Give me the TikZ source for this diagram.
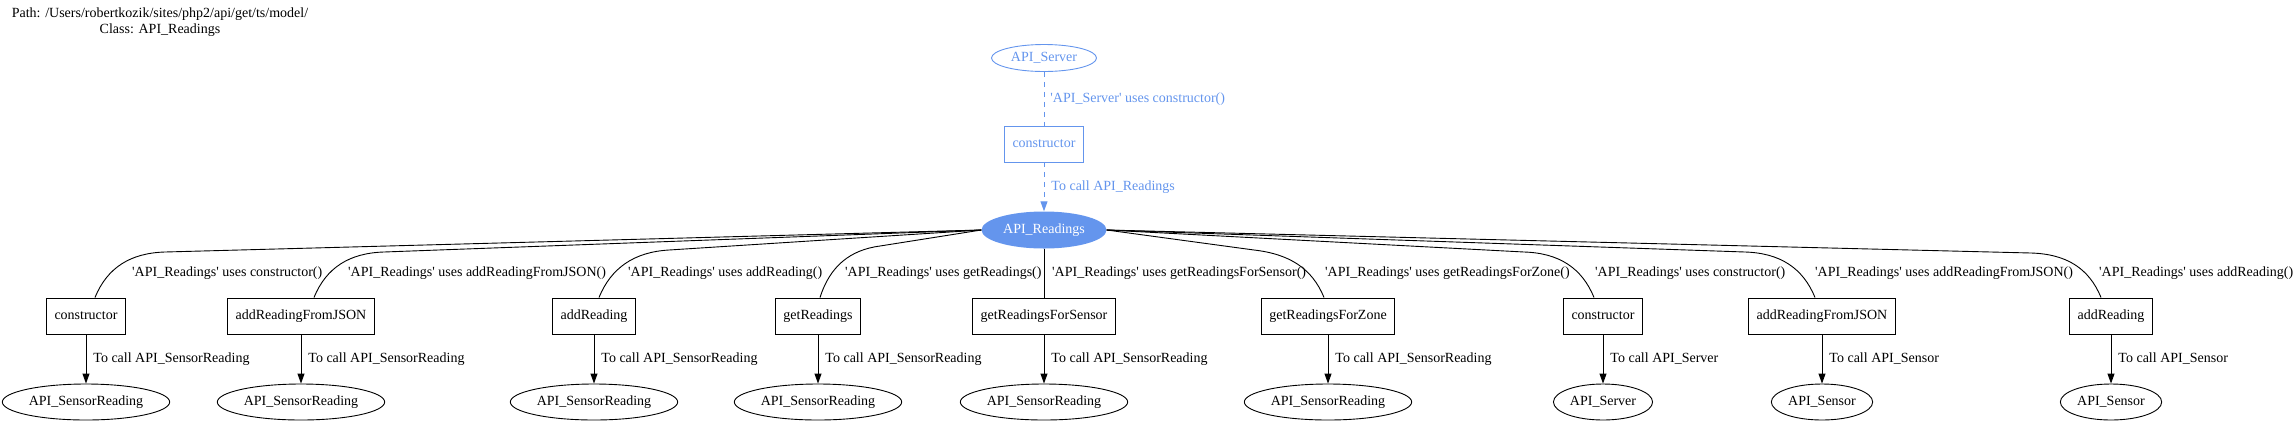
\documentclass[tikz,border=0pt]{standalone}
\usepackage{fontspec}
\setmainfont{Liberation Serif}
\usetikzlibrary{arrows.meta,shapes.geometric,positioning}
\definecolor{callblue}{HTML}{6495ED}
\newcommand{\tq}{\textquotesingle}

\begin{document}
\begin{tikzpicture}[x=1pt, y=-1pt, font=\fontsize{14}{16}\selectfont,
    method/.style={rectangle, draw, line width=0.9pt, minimum height=36pt, inner xsep=8pt},
    callee/.style={ellipse, draw, line width=0.9pt, minimum height=36pt, inner xsep=2pt},
    uses/.style={line width=0.9pt},
    calls/.style={line width=0.9pt, -{Triangle[length=10pt,width=7pt]}},
    lbl/.style={inner sep=0pt}]
    \useasboundingbox (0,0) rectangle (2296,424);

    % Title
    \node[align=center, inner sep=0pt] (title) at (160,22)
        {Path: /Users/robertkozik/sites/php2/api/get/ts/model/\\Class: API\_Readings};

    % Caller
    \node[ellipse, draw=callblue, text=callblue, line width=0.9pt, minimum width=105pt,
        minimum height=27pt, inner sep=0pt] (server) at (1044,58) {API\_Server};
    \node[method, draw=callblue, text=callblue] (ctor) at (1044,144) {constructor};
    \node[ellipse, fill=callblue, text=white, minimum width=125pt, minimum height=37pt,
        inner sep=0pt] (readings) at (1044,230) {API\_Readings};

    \draw[uses, callblue, dash pattern=on 5pt off 5pt] (server) -- (ctor)
        node[lbl, midway, right=6pt, text=callblue] (sl) {\tq API\_Server\tq{} uses constructor()};
    \draw[calls, callblue, dash pattern=on 5pt off 5pt] (ctor) -- (readings)
        node[lbl, midway, right=7pt, text=callblue] (rl) {To call API\_Readings};

    % Methods
    \node[method] (cons1) at (86,316) {constructor};
    \node[method] (jsonA) at (301,316) {addReadingFromJSON};
    \node[method] (addA) at (594,316) {addReading};
    \node[method] (getr) at (818,316) {getReadings};
    \node[method] (gsens) at (1044,316) {getReadingsForSensor};
    \node[method] (zone) at (1328,316) {getReadingsForZone};
    \node[method] (cons2) at (1603,316) {constructor};
    \node[method] (jsonB) at (1822,316) {addReadingFromJSON};
    \node[method] (addB) at (2111,316) {addReading};

    % Uses edges
    \draw[uses] (readings.west) -- (165,252) .. controls (130,253) and (107,268) .. ([xshift=9pt]cons1.north);
    \draw[uses] (readings.west) -- (384,252) .. controls (349,253) and (326,268) .. ([xshift=13pt]jsonA.north);
    \draw[uses] (readings.west) -- (669,250) .. controls (634,252) and (611,268) .. ([xshift=5pt]addA.north);
    \draw[uses] (readings.west) -- (880,246) .. controls (850,250) and (830,266) .. ([xshift=2pt]getr.north);
    \draw[uses] (readings) -- (gsens);
    \draw[uses] (readings.east) -- (1254,250) .. controls (1289,254) and (1312,268) .. ([xshift=-4pt]zone.north);
    \draw[uses] (readings.east) -- (1524,252) .. controls (1559,253) and (1582,268) .. ([xshift=-9pt]cons2.north);
    \draw[uses] (readings.east) -- (1745,252) .. controls (1780,253) and (1803,268) .. ([xshift=-7pt]jsonB.north);
    \draw[uses] (readings.east) -- (2031,253) .. controls (2066,254) and (2089,268) .. ([xshift=-10pt]addB.north);

    \node[lbl, anchor=west] (u1) at (132,273) {\tq API\_Readings\tq{} uses constructor()};
    \node[lbl, anchor=west] (u2) at (348,273) {\tq API\_Readings\tq{} uses addReadingFromJSON()};
    \node[lbl, anchor=west] (u3) at (628,273) {\tq API\_Readings\tq{} uses addReading()};
    \node[lbl, anchor=west] (u4) at (845,273) {\tq API\_Readings\tq{} uses getReadings()};
    \node[lbl, anchor=west] (u5) at (1052,273) {\tq API\_Readings\tq{} uses getReadingsForSensor()};
    \node[lbl, anchor=west] (u6) at (1325,273) {\tq API\_Readings\tq{} uses getReadingsForZone()};
    \node[lbl, anchor=west] (u7) at (1595,273) {\tq API\_Readings\tq{} uses constructor()};
    \node[lbl, anchor=west] (u8) at (1815,273) {\tq API\_Readings\tq{} uses addReadingFromJSON()};
    \node[lbl, anchor=west] (u9) at (2099,273) {\tq API\_Readings\tq{} uses addReading()};

    % Callees
    \node[callee] (sr1) at (86,402) {API\_SensorReading};
    \node[callee] (sr2) at (301,402) {API\_SensorReading};
    \node[callee] (sr3) at (594,402) {API\_SensorReading};
    \node[callee] (sr4) at (818,402) {API\_SensorReading};
    \node[callee] (sr5) at (1044,402) {API\_SensorReading};
    \node[callee] (sr6) at (1328,402) {API\_SensorReading};
    \node[callee] (srv) at (1603,402) {API\_Server};
    \node[callee] (sen1) at (1822,402) {API\_Sensor};
    \node[callee] (sen2) at (2111,402) {API\_Sensor};

    \draw[calls] (cons1) -- (sr1) node[lbl, midway, right=7pt] (c1) {To call API\_SensorReading};
    \draw[calls] (jsonA) -- (sr2) node[lbl, midway, right=7pt] (c2) {To call API\_SensorReading};
    \draw[calls] (addA) -- (sr3) node[lbl, midway, right=7pt] (c3) {To call API\_SensorReading};
    \draw[calls] (getr) -- (sr4) node[lbl, midway, right=7pt] (c4) {To call API\_SensorReading};
    \draw[calls] (gsens) -- (sr5) node[lbl, midway, right=7pt] (c5) {To call API\_SensorReading};
    \draw[calls] (zone) -- (sr6) node[lbl, midway, right=7pt] (c6) {To call API\_SensorReading};
    \draw[calls] (cons2) -- (srv) node[lbl, midway, right=7pt] (c7) {To call API\_Server};
    \draw[calls] (jsonB) -- (sen1) node[lbl, midway, right=7pt] (c8) {To call API\_Sensor};
    \draw[calls] (addB) -- (sen2) node[lbl, midway, right=7pt] (c9) {To call API\_Sensor};
\end{tikzpicture}
\end{document}
